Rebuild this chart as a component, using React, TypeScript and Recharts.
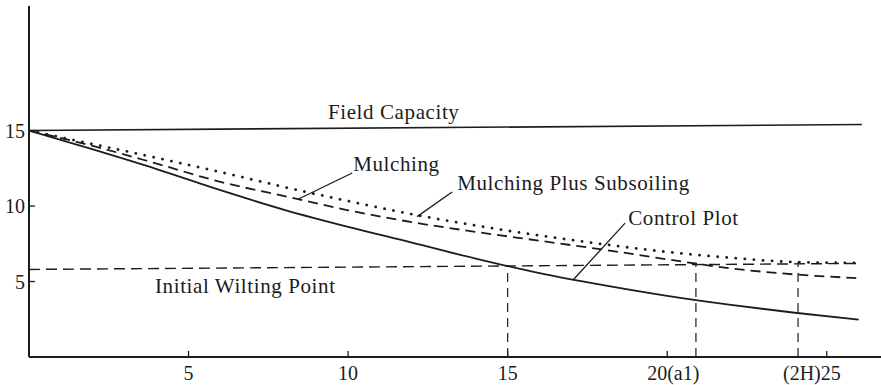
import React from 'react';
import { ComposedChart, Line, XAxis, YAxis, ReferenceLine, ReferenceDot } from 'recharts';

// days after irrigation, and soil moisture (%) for each treatment
const days = [0, 2, 4, 6, 8, 10, 12, 14, 16, 18, 20, 22, 24, 26];
const controlPlot = [15.0, 13.75, 12.45, 11.05, 9.75, 8.62, 7.58, 6.52, 5.56, 4.76, 4.05, 3.45, 2.93, 2.47];
const mulching = [15.0, 13.98, 12.81, 11.6, 10.66, 9.72, 8.93, 8.29, 7.7, 7.11, 6.47, 5.87, 5.47, 5.22];
const mulchingSubsoiling = [15.0, 14.1, 13.19, 12.25, 11.26, 10.33, 9.46, 8.71, 8.05, 7.47, 6.96, 6.57, 6.29, 6.23];

const xTicks = [5, 10, 15, 20, 25];
const xTickNotes: Record<number, { before?: string; after?: string }> = {
  20: { after: '(a1)' },
  25: { before: '(2H)' },
};
const yTicks = [5, 10, 15];

const fieldCapacity = [{ x: 0, y: 15.0 }, { x: 26.1, y: 15.4 }];
const wiltingPoint = [{ x: 0, y: 5.8 }, { x: 26.1, y: 6.2 }];
const wiltingDays = [
  { day: 15, top: 6.1 },
  { day: 20.9, top: 6.25 },
  { day: 24.1, top: 6.3 },
];

const labels = [
  { text: 'Field Capacity', x: 9.37, y: 15.76 },
  { text: 'Mulching', x: 10.16, y: 12.32 },
  { text: 'Mulching Plus Subsoiling', x: 13.42, y: 11.06 },
  { text: 'Control Plot', x: 18.78, y: 8.74 },
  { text: 'Initial Wilting Point', x: 3.95, y: 4.24 },
];
const leaders = [
  [{ x: 10.13, y: 12.19 }, { x: 8.43, y: 10.45 }],
  [{ x: 13.26, y: 10.93 }, { x: 12.16, y: 9.3 }],
  [{ x: 18.68, y: 8.87 }, { x: 17.05, y: 5.1 }],
];

const data = days.map((d, i) => ({
  day: d,
  control: controlPlot[i],
  mulching: mulching[i],
  subsoiling: mulchingSubsoiling[i],
}));

const INK = '#1c1c1c';
const FONT = '"Liberation Serif", "DejaVu Serif", serif';

const XTick = (props: any) => {
  const { x, y, payload } = props;
  const note = xTickNotes[payload.value] || {};
  let tx = x;
  let anchor: 'start' | 'middle' | 'end' = 'middle';
  if (note.after) {
    tx = x - 20;
    anchor = 'start';
  } else if (note.before) {
    tx = x + 14;
    anchor = 'end';
  }
  return (
    <g>
      <line x1={x} x2={x} y1={y} y2={y - 6} stroke={INK} strokeWidth={1.3} />
      <text x={tx} y={y + 23} textAnchor={anchor} fontSize={20} fontFamily={FONT} fill={INK}>
        {(note.before || '') + payload.value + (note.after || '')}
      </text>
    </g>
  );
};

const YTick = (props: any) => {
  const { x, y, payload } = props;
  return (
    <g>
      <line x1={x} x2={x + 6} y1={y} y2={y} stroke={INK} strokeWidth={1.3} />
      <text x={x - 4} y={y + 7} textAnchor="end" fontSize={20} fontFamily={FONT} fill={INK}>
        {payload.value}
      </text>
    </g>
  );
};

const App: React.FC = () => {
  return (
    <div style={{ position: 'absolute', left: 0, top: 0, background: '#fff' }}>
      <ComposedChart width={881} height={385} data={data} margin={{ top: 6, right: 0, bottom: 0, left: 0 }}>
        <XAxis
          type="number"
          dataKey="day"
          domain={[0, 26.7]}
          ticks={xTicks}
          tick={<XTick />}
          tickLine={false}
          tickSize={0}
          tickMargin={0}
          height={28}
          axisLine={{ stroke: INK, strokeWidth: 2 }}
          allowDataOverflow
        />
        <YAxis
          type="number"
          domain={[0, 23.25]}
          ticks={yTicks}
          tick={<YTick />}
          tickLine={false}
          tickSize={0}
          tickMargin={0}
          width={29}
          axisLine={{ stroke: INK, strokeWidth: 2 }}
          allowDataOverflow
        />

        <ReferenceLine segment={fieldCapacity} stroke={INK} strokeWidth={1.6} />
        <ReferenceLine segment={wiltingPoint} stroke={INK} strokeWidth={1.4} strokeDasharray="11 6" />
        {wiltingDays.map((w) => (
          <ReferenceLine
            key={w.day}
            segment={[{ x: w.day, y: 0 }, { x: w.day, y: w.top }]}
            stroke={INK}
            strokeWidth={1.2}
            strokeDasharray="9 6"
          />
        ))}

        <Line
          type="monotone"
          dataKey="control"
          stroke={INK}
          strokeWidth={1.8}
          dot={false}
          isAnimationActive={false}
        />
        <Line
          type="monotone"
          dataKey="mulching"
          stroke={INK}
          strokeWidth={1.8}
          strokeDasharray="10 6"
          dot={false}
          isAnimationActive={false}
        />
        <Line
          type="monotone"
          dataKey="subsoiling"
          stroke={INK}
          strokeWidth={2.8}
          strokeDasharray="0.1 9"
          strokeLinecap="round"
          dot={false}
          isAnimationActive={false}
        />

        {leaders.map((seg, i) => (
          <ReferenceLine key={'lead' + i} segment={seg} stroke={INK} strokeWidth={1.3} />
        ))}
        {labels.map((l) => (
          <ReferenceDot
            key={l.text}
            x={l.x}
            y={l.y}
            r={0}
            shape={(p: any) => (
              <text
                x={p.cx}
                y={p.cy}
                fontSize={21}
                fontFamily={FONT}
                fill={INK}
                letterSpacing={0.6}
              >
                {l.text}
              </text>
            )}
          />
        ))}
      </ComposedChart>
    </div>
  );
};

export default App;
